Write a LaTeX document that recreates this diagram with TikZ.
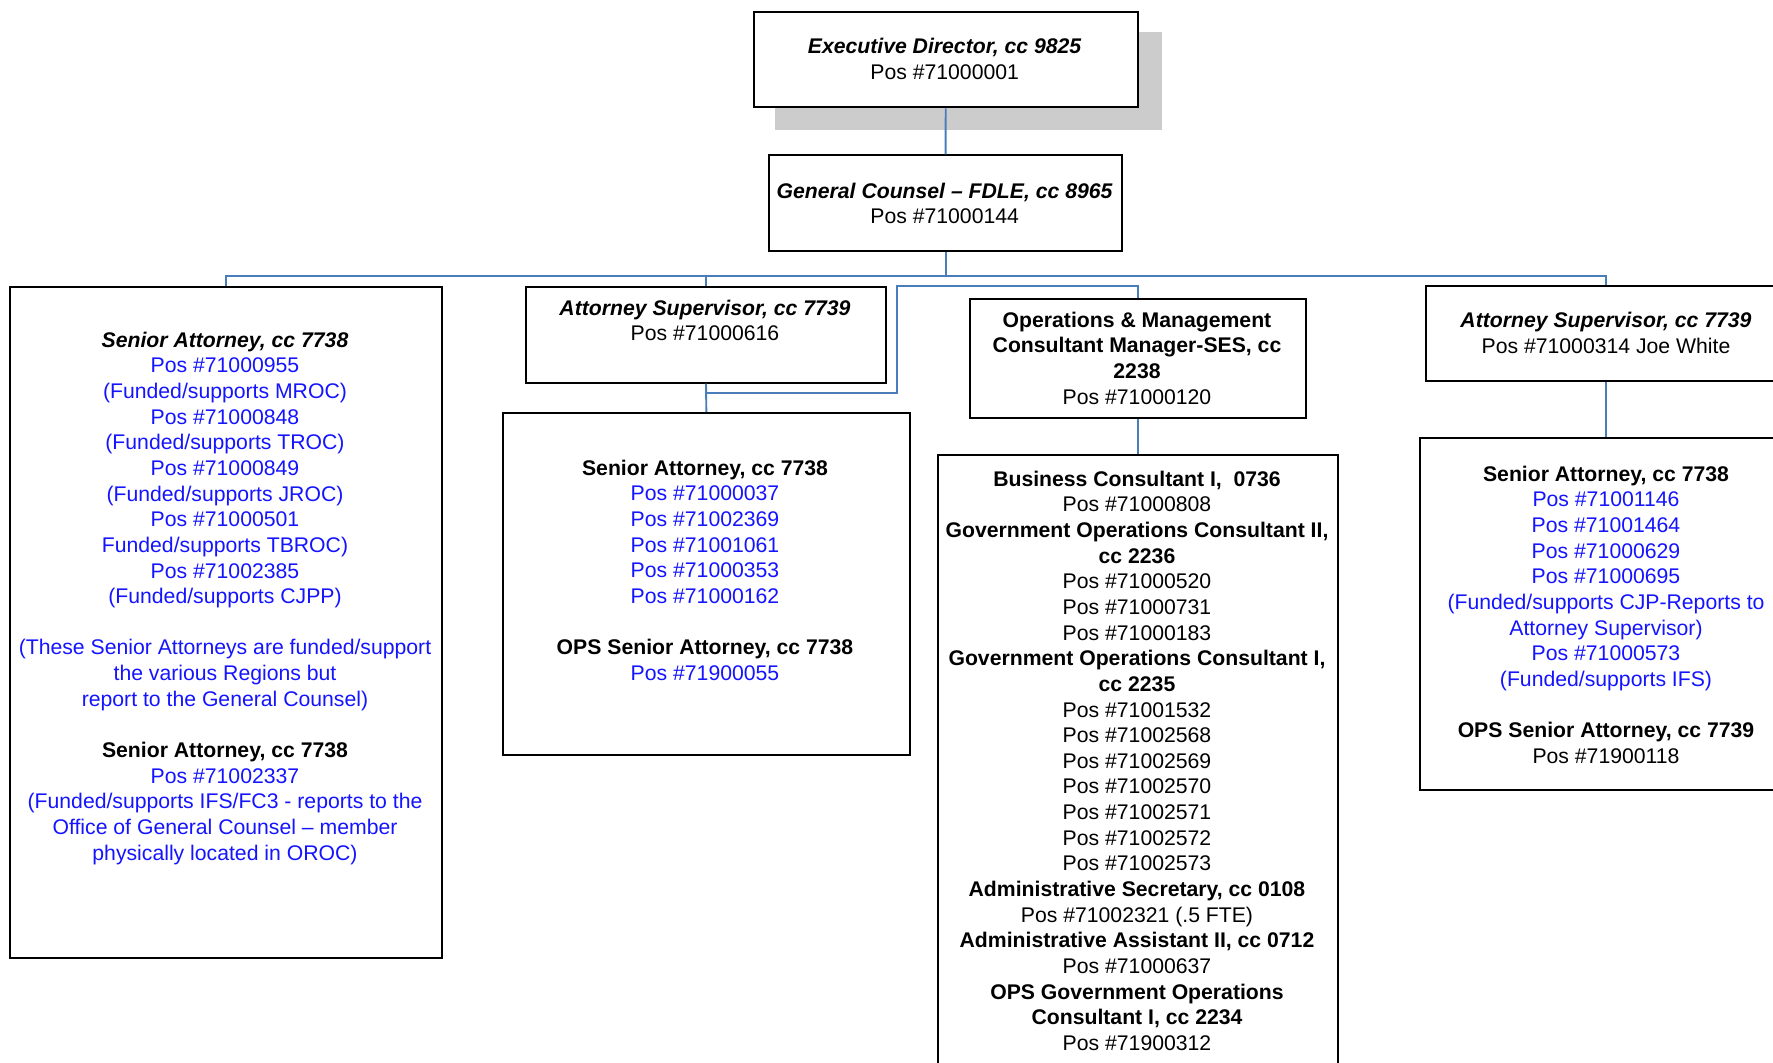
\documentclass[tikz,border=0pt]{standalone}
\usepackage{fontspec}
\setmainfont{Liberation Sans}
\usetikzlibrary{calc}
\definecolor{connblue}{RGB}{74,126,187}
\definecolor{shadowgray}{RGB}{204,204,204}
\definecolor{posblue}{RGB}{20,20,255}
\begin{document}
\begin{tikzpicture}[x=1pt,y=-1pt,
  box/.style={draw=black, line width=2pt, fill=white, inner sep=0pt, anchor=north west},
  txt/.style={inner sep=0pt, align=center, anchor=north, font=\fontsize{21.2}{25.65}\selectfont},
  conn/.style={draw=connblue, line width=1.9pt},
  bl/.style={text=posblue}]
\useasboundingbox (0,0) rectangle (1773,1063);
\clip (0,0) rectangle (1773,1063);
\fill[white] (0,0) rectangle (1773,1063);

% drop shadow of the top box
\fill[shadowgray] (775,32.3) rectangle (1162,130);

% boxes
\node[box, minimum width=384, minimum height=95.6] (exec) at (752.7,10.7) {};
\node[box, minimum width=352.7, minimum height=95.7] (gc) at (768.3,154.3) {};
\node[box, minimum width=432, minimum height=671.3] (left) at (9,286) {};
\node[box, minimum width=360, minimum height=95.7] (as1) at (525,286) {};
\node[box, minimum width=407.3, minimum height=342] (sa1) at (501.7,412) {};
\node[box, minimum width=336, minimum height=119.6] (ops) at (969,297.7) {};
\node[box, minimum width=400.6, minimum height=640] (opsl) at (936.7,453.7) {};
\node[box, minimum width=360, minimum height=95] (as2) at (1425,285) {};
\node[box, minimum width=371.4, minimum height=352] (sa2) at (1419.3,436.5) {};

% texts
\node[txt] (exec-t) at (944.7,35.5) {\strut\textbf{\textit{Executive Director, cc 9825}}\\Pos \#71000001};
\node[txt] (gc-t) at (944.7,180) {\strut\textbf{\textit{General Counsel – FDLE, cc 8965}}\\Pos \#71000144};
\node[txt] (left-t) at (225,329) {\strut\textbf{\textit{Senior Attorney, cc 7738}}\\
  \color{posblue}Pos \#71000955\\
  \color{posblue}(Funded/supports MROC)\\
  \color{posblue}Pos \#71000848\\
  \color{posblue}(Funded/supports TROC)\\
  \color{posblue}Pos \#71000849\\
  \color{posblue}(Funded/supports JROC)\\
  \color{posblue}Pos \#71000501\\
  \color{posblue}Funded/supports TBROC)\\
  \color{posblue}Pos \#71002385\\
  \color{posblue}(Funded/supports CJPP)\\
  \strut\\
  \color{posblue}(These Senior Attorneys are funded/support\\
  \color{posblue}the various Regions but\\
  \color{posblue}report to the General Counsel)\\
  \strut\\
  \textbf{Senior Attorney, cc 7738}\\
  \color{posblue}Pos \#71002337\\
  \color{posblue}(Funded/supports IFS/FC3 - reports to the\\
  \color{posblue}Office of General Counsel – member\\
  \color{posblue}physically located in OROC)};
\node[txt] (as1-t) at (705,297) {\strut\textbf{\textit{Attorney Supervisor, cc 7739}}\\Pos \#71000616};
\node[txt] (sa1-t) at (705,457) {\strut\textbf{Senior Attorney, cc 7738}\\
  \color{posblue}Pos \#71000037\\
  \color{posblue}Pos \#71002369\\
  \color{posblue}Pos \#71001061\\
  \color{posblue}Pos \#71000353\\
  \color{posblue}Pos \#71000162\\
  \strut\\
  \textbf{OPS Senior Attorney, cc 7738}\\
  \color{posblue}Pos \#71900055};
\node[txt] (ops-t) at (1137,309) {\strut\textbf{Operations \& Management}\\
  \textbf{Consultant Manager-SES, cc}\\
  \textbf{2238}\\
  Pos \#71000120};
\node[txt] (opsl-t) at (1137,468) {\strut\textbf{Business Consultant I,~ 0736}\\
  Pos \#71000808\\
  \textbf{Government Operations Consultant II,}\\
  \textbf{cc 2236}\\
  Pos \#71000520\\
  Pos \#71000731\\
  Pos \#71000183\\
  \textbf{Government Operations Consultant I,}\\
  \textbf{cc 2235}\\
  Pos \#71001532\\
  Pos \#71002568\\
  Pos \#71002569\\
  Pos \#71002570\\
  Pos \#71002571\\
  Pos \#71002572\\
  Pos \#71002573\\
  \textbf{Administrative Secretary, cc 0108}\\
  Pos \#71002321 (.5 FTE)\\
  \textbf{Administrative Assistant II, cc 0712}\\
  Pos \#71000637\\
  \textbf{OPS Government Operations}\\
  \textbf{Consultant I, cc 2234}\\
  Pos \#71900312};
\node[txt] (as2-t) at (1606,309.6) {\strut\textbf{\textit{Attorney Supervisor, cc 7739}}\\Pos \#71000314 Joe White};
\node[txt] (sa2-t) at (1606,463) {\strut\textbf{Senior Attorney, cc 7738}\\
  \color{posblue}Pos \#71001146\\
  \color{posblue}Pos \#71001464\\
  \color{posblue}Pos \#71000629\\
  \color{posblue}Pos \#71000695\\
  \color{posblue}(Funded/supports CJP-Reports to\\
  \color{posblue}Attorney Supervisor)\\
  \color{posblue}Pos \#71000573\\
  \color{posblue}(Funded/supports IFS)\\
  \strut\\
  \textbf{OPS Senior Attorney, cc 7739}\\
  Pos \#71900118};

% connectors
\coordinate (bus) at ($(gc.south)+(0,24)$);
\coordinate (opsbend) at (896.7,286);
\coordinate (opsjoin) at (705,393.3);
\draw[conn] (exec.south) -- (gc.north);
\draw[conn] (gc.south) -- (bus);
\draw[conn] (left.north) |- (bus);
\draw[conn] (as1.north) |- (bus);
\draw[conn] (as2.north) |- (bus);
\draw[conn] (as1.south) -- (sa1.north);
\draw[conn] (ops.north) |- (opsbend) |- (opsjoin);
\draw[conn] (ops.south) -- (opsl.north);
\draw[conn] (as2.south) -- (sa2.north);
\end{tikzpicture}
\end{document}
